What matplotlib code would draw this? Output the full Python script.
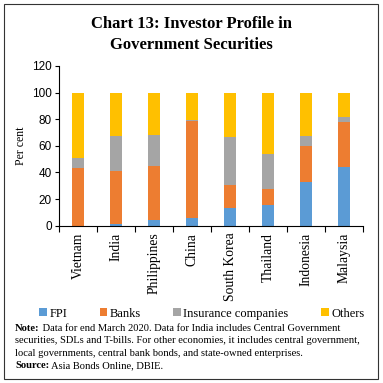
import matplotlib.pyplot as plt
import numpy as np
from matplotlib.patches import Rectangle

countries = ['Vietnam', 'India', 'Philippines', 'China', 'South Korea',
             'Thailand', 'Indonesia', 'Malaysia']
fpi = [0.0, 1.0, 4.0, 5.8, 13.0, 15.3, 32.8, 44.4]
banks = [43.0, 40.4, 41.0, 73.2, 17.6, 12.5, 27.1, 33.6]
insurance = [7.6, 26.3, 23.0, 0.5, 36.1, 26.1, 7.8, 4.0]
others = [49.4, 32.3, 32.0, 20.5, 33.3, 46.1, 32.3, 18.0]

labels = ['FPI', 'Banks', 'Insurance companies', 'Others']
colors = ['#5B9BD5', '#ED7D31', '#A5A5A5', '#FFC000']

plt.rcParams['font.family'] = ['Liberation Serif', 'DejaVu Serif']

fig = plt.figure(figsize=(3.83, 3.83), dpi=100)
ax = fig.add_axes([59 / 383, 1 - 225.7 / 383, 304 / 383, 159.7 / 383])

x = np.arange(len(countries))
bottom = np.zeros(len(countries))
for vals, lab, col in zip([fpi, banks, insurance, others], labels, colors):
    ax.bar(x, vals, 0.32, bottom=bottom, color=col, label=lab)
    bottom += np.array(vals)

ax.set_xlim(-0.5, len(countries) - 0.5)
ax.set_ylim(0, 120)
ax.set_yticks(range(0, 121, 20))
ax.set_yticklabels([str(v) for v in range(0, 121, 20)],
                   family='Liberation Sans', fontsize=8.5)
ax.set_xticks(x)
ax.set_xticklabels(countries, rotation=90, fontsize=9.8)
ax.tick_params(axis='x', length=0, pad=5)
ax.set_xticks(np.arange(-0.5, len(countries), 1), minor=True)
ax.tick_params(axis='x', which='minor', length=4, width=0.8)
ax.tick_params(axis='y', length=3, width=0.8, pad=2)
ax.set_ylabel('Per cent', fontsize=8.5, labelpad=4)
for s in ['top', 'right']:
    ax.spines[s].set_visible(False)

fig.text(0.5, 0.957, 'Chart 13: Investor Profile in\nGovernment Securities',
         ha='center', va='top', fontsize=12, fontweight='bold',
         linespacing=1.35)

ax.legend(loc='center', bbox_to_anchor=(0.47, -0.55), ncol=4,
          frameon=False, fontsize=9, handlelength=0.6, handleheight=0.6,
          handletextpad=0.2, columnspacing=2.6, borderaxespad=0)

note = [
    ('Note:', ' Data for end March 2020. Data for India includes Central Government'),
    ('', 'securities, SDLs and T-bills. For other economies, it includes central government,'),
    ('', 'local governments, central bank bonds, and state-owned enterprises.'),
    ('Source:', ' Asia Bonds Online, DBIE.'),
]
y0 = 331
for i, (b, t) in enumerate(note):
    yy = 1 - (y0 + i * 12.3) / 383
    if b:
        tb = fig.text(15 / 383, yy, b, fontsize=7.6, fontweight='bold',
                      va='baseline')
        fig.canvas.draw()
        bb = tb.get_window_extent()
        fig.text(bb.x1 / 383, yy, t, fontsize=7.6, va='baseline')
    else:
        fig.text(15 / 383, yy, t, fontsize=7.6, va='baseline')

fig.patches.append(Rectangle((4 / 383, 4 / 383), 374 / 383, 375 / 383,
                             transform=fig.transFigure, fill=False,
                             edgecolor='#333333', linewidth=0.8))

fig.savefig('out.png', dpi=100)
